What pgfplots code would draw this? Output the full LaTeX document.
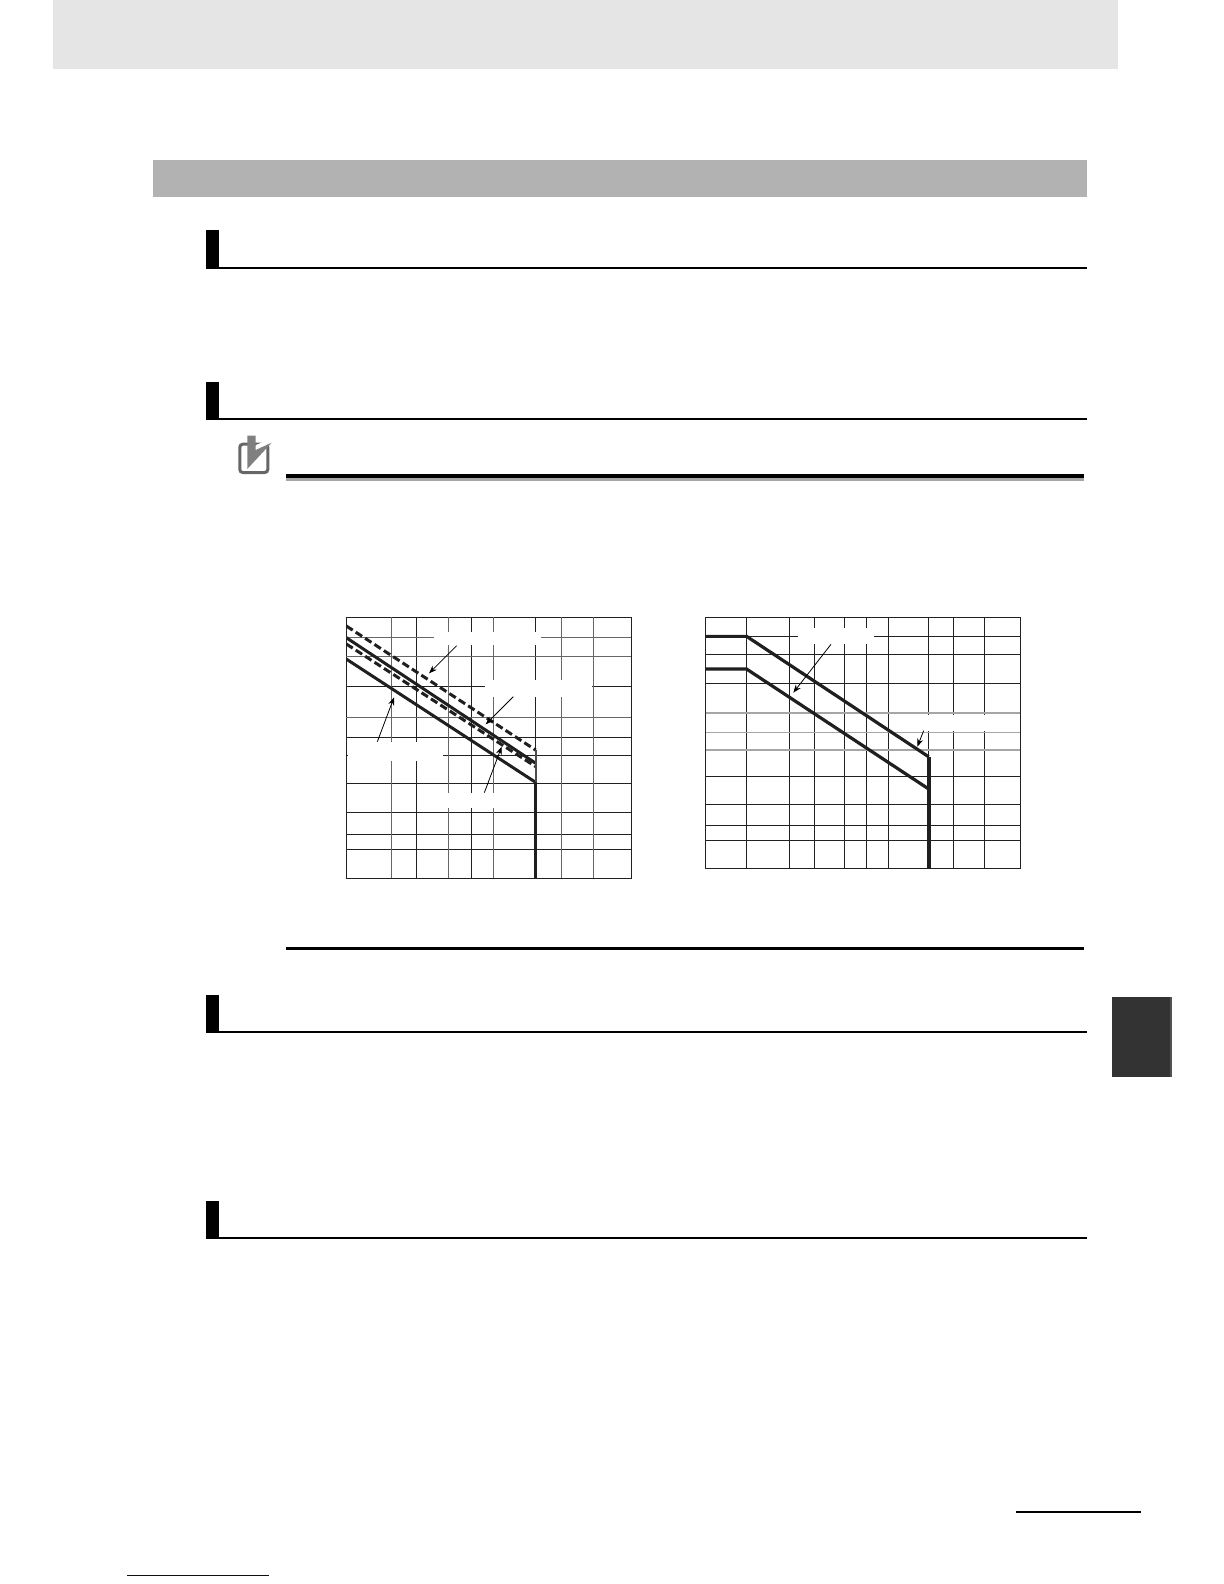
\documentclass[border=0pt]{standalone}
\usepackage{pgfplots}
\pgfplotsset{compat=1.18}
\usetikzlibrary{arrows.meta}
\definecolor{griddark}{gray}{0.13}
\definecolor{gridmid}{gray}{0.4}
\definecolor{gridlight}{gray}{0.65}
\definecolor{curvecol}{gray}{0.12}
\tikzset{
  wipe/.style={fill=white, draw=none},
  pointer/.style={black, line width=0.4pt, -{Stealth[length=4pt,width=3pt]}},
}
\begin{document}
\begin{tikzpicture}
\useasboundingbox (0,0) rectangle (612pt,-792pt);
% page furniture, in reference pixels
\begin{scope}[x=0.5pt,y=-0.5pt]
  \fill[black!10] (53,0) rectangle (1118,69);
  \fill[black!30] (153,160) rectangle (1087,197);
  \foreach \t/\b in {230/269,382/420,995/1033,1201/1239}{
    \fill[black] (206,\t) rectangle (219,\b);
    \fill[black] (206,\b-2) rectangle (1087,\b);
  }
  \fill[black] (286,474) rectangle (1084,478);
  \fill[black!35] (286,478) rectangle (1084,481);
  \fill[black] (286,947) rectangle (1084,950);
  \fill[black!80] (1112,997) rectangle (1170,1077);
  \fill[black!68] (1170,997) rectangle (1172,1077);
  \fill[black] (1016,1511) rectangle (1141,1513);
  \fill[blue!50!black] (127,1575) rectangle (269,1576);
  % check icon
  \draw[black!60, line width=1.5pt, rounded corners=1.5pt] (239.8,444.2) rectangle (267.8,472.5);
  \fill[white] (256,445) -- (272,438) -- (250,470) -- cycle;
  \fill[black!50] (247.3,435.7) -- (255.7,435.7) -- (255.7,450) -- (271.7,442.7) -- (247.3,469) -- cycle;
\end{scope}

% left chart
\begin{axis}[
  scale only axis, anchor=south west,
  at={(173.17pt,-439.17pt)}, width=142.5pt, height=130.5pt,
  xmode=log, ymode=log,
  xmin=0.1, xmax=10, ymin=1, ymax=500,
  xminorticks=false, yminorticks=false,
  xticklabels={}, yticklabels={},
  major tick length=0pt,
  grid=major,
  major grid style={griddark, line width=0.45pt},
  axis line style={griddark, line width=0.5pt},
  xtick={0.3115,0.7538,2.132},
  ytick={96.7,28.7,18.7,9.6,4.82,2.85,1.995},
  extra x ticks={0.2057,0.5198,1.081,3.244,5.441},
  extra y ticks={308,199,46.6},
  extra x tick labels={}, extra y tick labels={},
  extra tick style={grid=major, major grid style={gridmid, line width=0.45pt}},
]
\fill[wipe] (rel axis cs:.3076,.894) rectangle (rel axis cs:.6819,.9451);
\fill[wipe] (rel axis cs:.4865,.6935) rectangle (rel axis cs:.8632,.7599);
\fill[wipe] (rel axis cs:.007,.4508) rectangle (rel axis cs:.3404,.5236);
\fill[wipe] (rel axis cs:.2936,.2682) rectangle (rel axis cs:.5626,.3282);
\addplot[curvecol, no markers, line width=1.5pt, dash pattern=on 3.8pt off 1.8pt] coordinates {(0.1,407) (2.132,21.2)};
\addplot[curvecol, no markers, line width=1.5pt] coordinates {(0.1,308) (2.132,15.5)};
\addplot[curvecol, no markers, line width=1.5pt, dash pattern=on 3.8pt off 1.8pt] coordinates {(0.1,265) (2.132,14.3)};
\addplot[curvecol, no markers, line width=1.5pt] coordinates {(0.1,185) (2.132,9.83)};
\addplot[black!70, no markers, line width=1pt] coordinates {(2.132,21.2) (2.132,9.83)};
\addplot[curvecol, no markers, line width=1.7pt] coordinates {(2.132,9.83) (2.132,1)};
\draw[pointer] (rel axis cs:.3871,.8914) -- (rel axis cs:.2901,.7854);
\draw[pointer] (rel axis cs:.586,.696) -- (rel axis cs:.4889,.59);
\draw[pointer] (rel axis cs:.1088,.5236) -- (rel axis cs:.1673,.6935);
\draw[pointer] (rel axis cs:.4842,.3282) -- (rel axis cs:.545,.5045);
\end{axis}

% right chart
\begin{axis}[
  scale only axis, anchor=south west,
  at={(352.83pt,-434.33pt)}, width=157.33pt, height=125.67pt,
  xmode=log, ymode=log,
  xmin=0.05, xmax=10, ymin=1, ymax=500,
  xminorticks=false, yminorticks=false,
  xticklabels={}, yticklabels={},
  major tick length=0pt,
  grid=major,
  major grid style={griddark, line width=0.45pt},
  axis line style={griddark, line width=0.5pt},
  xtick={0.0997,0.2058,0.3134,0.5166,0.7525,1.084,2.137,3.258,5.49},
  ytick={312,200,97.7,9.8,4.91,2.895,2.015},
  extra y ticks={46.9,28.9,18.8},
  extra y tick labels={},
  extra tick style={grid=major, major grid style={gridlight, line width=0.7pt}},
]
\fill[wipe] (rel axis cs:.2945,.8926) rectangle (rel axis cs:.536,.9562);
\fill[wipe] (rel axis cs:.7023,.5491) rectangle (rel axis cs:.995,.6114);
\addplot[curvecol, no markers, line width=1.6pt] table {
x y
0.05 312
0.0997 312
2.137 15.9
};
\addplot[curvecol, no markers, line width=1.6pt] table {
x y
0.05 139
0.0997 139
2.137 7.17
};
\addplot[curvecol, no markers, line width=2pt] coordinates {(2.137,15.9) (2.137,1)};
\draw[pointer] (rel axis cs:.3983,.8926) -- (rel axis cs:.2786,.7003);
\draw[pointer] (rel axis cs:.6928,.5491) -- (rel axis cs:.6727,.4854);
\end{axis}
\end{tikzpicture}
\end{document}
